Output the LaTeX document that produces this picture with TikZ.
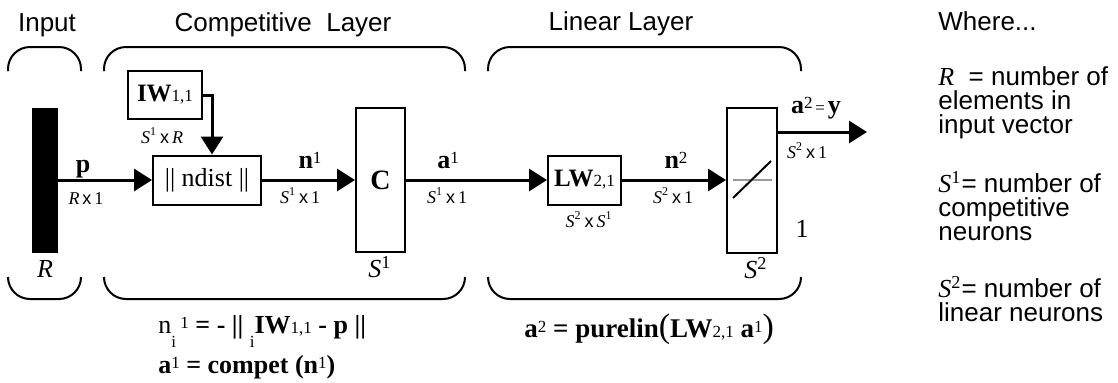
\documentclass[tikz,border=0pt]{standalone}
\usepackage{fontspec}
\setmainfont{Liberation Serif}
\setsansfont{Liberation Sans}
\usetikzlibrary{arrows.meta}
\newcommand\smt[1]{{\fontsize{8.5}{9}\selectfont #1}}
\newcommand\upt[1]{\raisebox{0.35ex}{\smt{#1}}}
\newcommand\dnt[1]{\raisebox{-1.2ex}{\smt{#1}}}
\newcommand\xx{\textsf{x}}
\tikzset{
  box/.style={draw, line width=1pt, inner sep=0pt},
  conn/.style={line width=1.5pt, -{Triangle[length=9pt,width=11pt]}},
  brace/.style={line width=1pt, rounded corners=11pt},
  head/.style={font=\sffamily\fontsize{13}{15}\selectfont, anchor=base, inner sep=0pt},
  side/.style={font=\sffamily\fontsize{13}{15}\selectfont, anchor=base west, inner sep=0pt},
  lbl/.style={font=\fontsize{13}{15}\selectfont, anchor=base, inner sep=0pt},
  dim/.style={font=\fontsize{9}{10}\selectfont, anchor=base, inner sep=0pt},
  eq/.style={font=\fontsize{13}{15}\selectfont, anchor=base west, inner sep=0pt},
}
\begin{document}
\begin{tikzpicture}[x=0.5pt,y=-0.5pt]
\useasboundingbox (0,0) rectangle (1118,382);
% headings
\node[head] (tIn) at (47,31) {Input};
\node[head] (tComp) at (283,31) {Competitive\ \ Layer};
\node[head] (tLin) at (621,30) {Linear Layer};
% braces
\draw[brace] (8,71) -- (8,47) -- (81,47) -- (81,71);
\draw[brace] (104,71) -- (104,47) -- (465,47) -- (465,71);
\draw[brace] (488,71) -- (488,47) -- (801,47) -- (801,71);
\draw[brace] (8,277) -- (8,299) -- (81,299) -- (81,277);
\draw[brace] (104,277) -- (104,299) -- (465,299) -- (465,277);
\draw[brace] (488,277) -- (488,299) -- (801,299) -- (801,277);
% blocks
\node[fill=black, inner sep=0pt, minimum width=13pt, minimum height=72.5pt] (bar) at (45,180) {};
\node[box, minimum width=37pt, minimum height=24pt] (IW) at (165,95) {\fontsize{12.5}{14}\selectfont\textbf{IW}\smt{1,1}};
\node[box, minimum width=54pt, minimum height=24.5pt] (nd) at (207,180) {\fontsize{13}{15}\selectfont || ndist ||};
\node[box, minimum width=24.5pt, minimum height=72pt] (C) at (380.5,180) {\fontsize{14}{16}\selectfont\textbf{C}};
\node[box, minimum width=36.5pt, minimum height=24.5pt] (LW) at (584.5,180) {\fontsize{12.5}{14}\selectfont\textbf{LW}\smt{2,1}};
\node[box, minimum width=25pt, minimum height=72.5pt] (lin) at (752,180) {};
\draw[gray!80, line width=0.8pt] ([xshift=3.5pt]lin.west) -- ([xshift=-3pt]lin.east);
\draw[line width=1pt] (733,198) -- (771,161);
% connectors
\coordinate (out) at (867,132);
\draw[conn] (bar.east) -- (nd.west);
\draw[conn] (IW.east) -| ([xshift=2.5pt]nd.north);
\draw[conn] (nd.east) -- (C.west);
\draw[conn] (C.east) -- (LW.west);
\draw[conn] (LW.east) -- (lin.west);
\draw[conn] (lin.east |- out) -- (out);
% labels
\node[lbl] (lp) at (83,172) {\textbf{p}};
\node[dim] (lpd) at (86,204) {\textit{R}\,\xx\,1};
\node[dim] (liw) at (162,143) {\textit{S}\textsuperscript{1}\,\xx\,\textit{R}};
\node[lbl] (ln1) at (310,168) {\textbf{n}\upt{1}};
\node[dim] (ln1d) at (300,203) {\textit{S}\textsuperscript{1}\,\xx\,1};
\node[lbl] (la1) at (448,168) {\textbf{a}\upt{1}};
\node[dim] (la1d) at (447,203) {\textit{S}\textsuperscript{1}\,\xx\,1};
\node[dim] (lwd) at (589,227) {\textit{S}\textsuperscript{2}\,\xx\,\textit{S}\textsuperscript{1}};
\node[lbl] (ln2) at (676,168) {\textbf{n}\upt{2}};
\node[dim] (ln2d) at (673,203) {\textit{S}\textsuperscript{2}\,\xx\,1};
\node[lbl] (lR) at (45,277) {\textit{R}};
\node[lbl] (lS1) at (380,277) {\textit{S}\textsuperscript{1}};
\node[lbl] (lS2) at (756,278) {\textit{S}\textsuperscript{2}};
\node[lbl] (l1) at (802,237) {1};
\node[lbl] (lout) at (816,113) {\textbf{a}\upt{2}\smt{\,=\,}\textbf{y}};
\node[dim] (loutd) at (807,158) {\textit{S}\textsuperscript{2}\,\xx\,1};
% equations
\node[eq] (e1) at (158,333) {n\dnt{i}\,\upt{1} \textbf{= - ||} \dnt{i}\textbf{IW}\smt{1,1} \textbf{- p ||}};
\node[eq] (e2) at (158,373) {\textbf{a}\upt{1} \textbf{= compet} \textbf{(n}\upt{1}\textbf{)}};
\node[eq, font=\fontsize{13.5}{15}\selectfont] (e3) at (524,337) {\textbf{a}\upt{2} \textbf{= purelin}{\fontsize{17}{17}\selectfont(}\textbf{LW}\smt{2,1} \textbf{a}\upt{1}{\fontsize{17}{17}\selectfont)}};
% legend
\node[side] (w0) at (938,30) {Where...};
\node[side] (w1) at (938,85) {{\rmfamily\itshape R}\ \ = number of};
\node[side] (w2) at (938,109) {elements in};
\node[side] (w3) at (938,133) {input vector};
\node[side] (w4) at (938,192) {{\rmfamily\itshape S}{\rmfamily\textsuperscript{1}}= number of};
\node[side] (w5) at (938,216) {competitive};
\node[side] (w6) at (938,240) {neurons};
\node[side] (w7) at (938,297) {{\rmfamily\itshape S}{\rmfamily\textsuperscript{2}}= number of};
\node[side] (w8) at (938,321) {linear neurons};
\end{tikzpicture}
\end{document}
